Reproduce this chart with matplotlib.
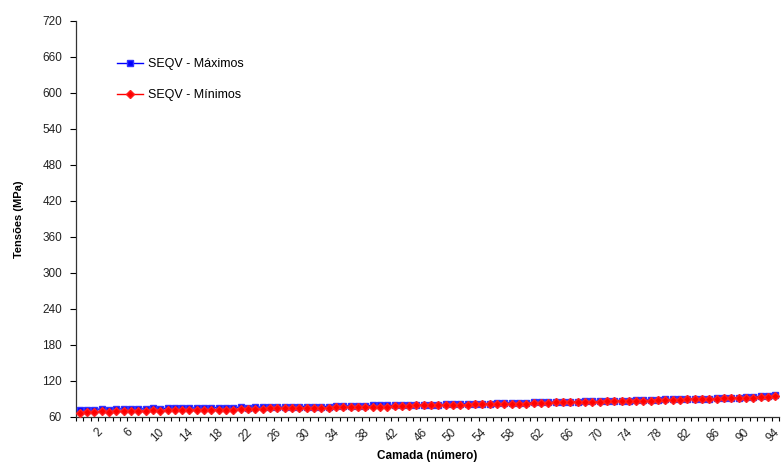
import numpy as np
import matplotlib
matplotlib.use("Agg")
import matplotlib.pyplot as plt
import matplotlib.transforms as mtransforms

plt.rcParams['font.family'] = ['Liberation Sans', 'DejaVu Sans']

# camadas 1..96
camadas = np.arange(1, 97)

seqv_max = [72, 72, 72, 73, 72, 73, 73, 73, 73, 73,
            74, 73, 74, 74, 74, 74, 75, 74, 75, 75,
            75, 75, 76, 75, 76, 76, 76, 76, 76, 77,
            77, 77, 77, 77, 77, 78, 78, 78, 78, 78,
            79, 79, 79, 79, 79, 80, 80, 80, 80, 80,
            81, 81, 81, 82, 82, 82, 82, 83, 83, 83,
            83, 83, 84, 84, 84, 85, 85, 85, 85, 86,
            86, 86, 86, 87, 87, 87, 88, 88, 88, 88,
            89, 89, 89, 89, 90, 90, 90, 91, 91, 91,
            92, 93, 93, 94, 95, 96]

seqv_min = [67, 68, 68, 69, 68, 69, 69, 70, 70, 70,
            71, 70, 71, 71, 71, 71, 72, 71, 72, 72,
            72, 72, 73, 73, 73, 73, 74, 74, 74, 74,
            75, 75, 75, 75, 75, 76, 76, 76, 76, 77,
            77, 77, 77, 78, 78, 78, 79, 79, 79, 79,
            79, 80, 80, 80, 81, 81, 81, 81, 82, 82,
            82, 82, 83, 83, 83, 84, 84, 84, 85, 85,
            85, 85, 86, 86, 86, 87, 87, 87, 87, 88,
            88, 88, 88, 89, 89, 90, 90, 90, 91, 91,
            91, 92, 92, 93, 93, 94]

x_labels = [2, 6, 10, 14, 18, 22, 26, 30, 34, 38, 42, 46,
            50, 54, 58, 62, 66, 70, 74, 78, 82, 86, 90, 94]
y_ticks = [60, 120, 180, 240, 300, 360, 420, 480, 540, 600, 660, 720]

fig = plt.figure(figsize=(7.81, 4.62), dpi=100)
ax = fig.add_axes([0.0973, 0.098, 0.9001, 0.857])

ax.plot(camadas, seqv_max, color='#0000FF', linewidth=1, marker='s',
        markersize=5, markeredgecolor='#3333FF', label='SEQV - Máximos', zorder=3)
ax.plot(camadas, seqv_min, color='#FF0000', linewidth=1, marker='D',
        markersize=4.5, markeredgecolor='#FF2020', label='SEQV - Mínimos', zorder=4)

ax.set_xlim(0.5, len(camadas) + 0.5)
ax.set_ylim(60, 720)

# y axis
ax.set_yticks(y_ticks)
ax.set_yticklabels([str(v) for v in y_ticks], fontsize=8.5, color='#222222')
ax.tick_params(axis='y', direction='out', length=4, width=0.8, pad=6)

# x axis: small ticks between categories, rotated labels every 4
ax.set_xticks(np.arange(0.5, len(camadas) + 1, 1), minor=True)
ax.tick_params(axis='x', which='minor', direction='out', length=3, width=0.8)
ax.set_xticks(x_labels)
ax.set_xticklabels([str(v) for v in x_labels], fontsize=8.5, rotation=45,
                   ha='center', va='top', color='#222222')
ax.tick_params(axis='x', which='major', length=0, pad=7)
offset = mtransforms.ScaledTranslation(0.12, 0, fig.dpi_scale_trans)
for lab in ax.get_xticklabels():
    lab.set_transform(lab.get_transform() + offset)

for s in ['top', 'right']:
    ax.spines[s].set_visible(False)
for s in ['left', 'bottom']:
    ax.spines[s].set_color('#333333')
    ax.spines[s].set_linewidth(0.9)

ax.set_xlabel('Camada (número)', fontsize=8.5, fontweight='bold')
ax.xaxis.set_label_coords(0.5, -0.085)
ax.set_ylabel('Tensões (MPa)', fontsize=8, fontweight='bold', labelpad=13)

ax.legend(loc='upper left', bbox_to_anchor=(0.058, 0.905), frameon=False,
          fontsize=9, handlelength=2.1, handletextpad=0.4, labelspacing=1.5,
          borderpad=0, borderaxespad=0, markerscale=0.8)

fig.savefig('out.png', dpi=100)
